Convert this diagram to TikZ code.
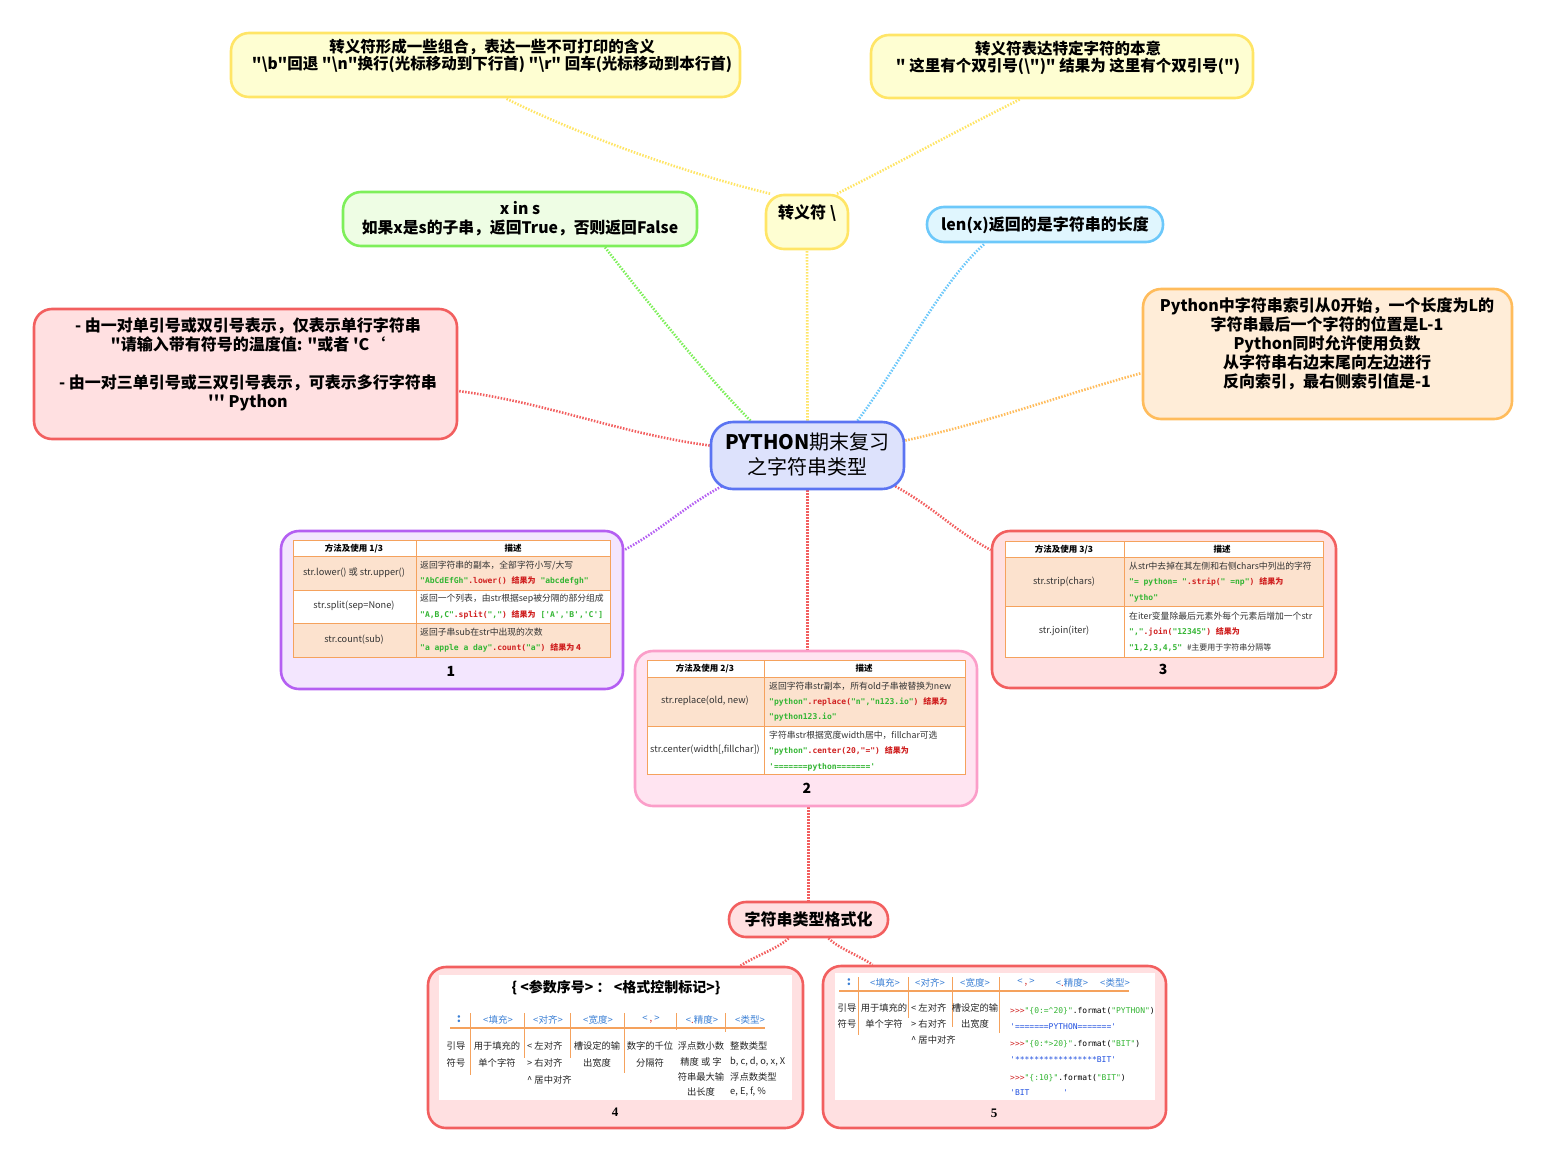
\documentclass[tikz,border=0pt]{standalone}
\usepackage{fontspec}
\usetikzlibrary{backgrounds}
\newfontfamily\cjk{Noto Sans CJK SC}
\newfontfamily\cmono{DejaVu Sans Mono}
\newfontfamily\numserif{Liberation Serif}
\definecolor{yF}{HTML}{FEFED2}\definecolor{yB}{HTML}{FFE566}
\definecolor{gF}{HTML}{EEFDE4}\definecolor{gB}{HTML}{7EEF5A}
\definecolor{bF}{HTML}{E0F6FE}\definecolor{bB}{HTML}{6CC8FA}
\definecolor{rF}{HTML}{FFE0E1}\definecolor{rB}{HTML}{F25F5F}
\definecolor{oF}{HTML}{FFEDD8}\definecolor{oB}{HTML}{FFBC5C}
\definecolor{cF}{HTML}{DDE2FC}\definecolor{cB}{HTML}{5B74F2}
\definecolor{pF}{HTML}{F3E6FE}\definecolor{pB}{HTML}{B45FF2}
\definecolor{kF}{HTML}{FFE4F1}\definecolor{kB}{HTML}{FB9EC9}
\definecolor{rowor}{HTML}{FCE2CE}\definecolor{tline}{HTML}{F5A25D}
\definecolor{cg}{HTML}{33B533}\definecolor{cr}{HTML}{D02020}
\definecolor{cbl}{HTML}{2050E0}\definecolor{hbl}{HTML}{3A7FD5}
\definecolor{dtx}{HTML}{333333}
\newcommand\GS[1]{\textcolor{cg}{#1}}
\newcommand\RS[1]{\textcolor{cr}{#1}}
\newcommand\BS[1]{\textcolor{cbl}{#1}}
\tikzset{
  box/.style={draw, line width=2.6pt, rounded corners=18pt, inner sep=0pt},
  conn/.style={line width=2.6pt, dash pattern=on 1.5pt off 1.5pt},
  bt/.style={font=\cjk\bfseries\fontsize{16}{19}\selectfont, align=center, inner sep=0pt, text=black},
  st/.style={font=\cjk\bfseries\fontsize{15.5}{17}\selectfont, align=center, inner sep=0pt, text=black},
  th/.style={font=\cjk\bfseries\fontsize{8.5}{10}\selectfont, inner sep=0pt, text=black},
  tl/.style={font=\cjk\fontsize{9.2}{11}\selectfont, inner sep=0pt, text=dtx},
  td/.style={font=\cjk\fontsize{8.8}{10}\selectfont, inner sep=0pt, text=dtx, anchor=west},
  tc/.style={font=\cmono\bfseries\fontsize{8}{9}\selectfont, inner sep=0pt, anchor=west},
  tlin/.style={draw=tline, line width=0.9pt},
  hd/.style={font=\cjk\fontsize{9.5}{10}\selectfont, inner sep=0pt, text=hbl},
  cell/.style={font=\cjk\fontsize{9.3}{10}\selectfont, inner sep=0pt, text=black!85},
  num/.style={font=\cjk\bfseries\fontsize{14}{16}\selectfont, inner sep=0pt},
  numb/.style={font=\numserif\bfseries\fontsize{13}{15}\selectfont, inner sep=0pt},
}
\begin{document}
\begin{tikzpicture}[x=1pt,y=-1pt]
\useasboundingbox (0,0) rectangle (1546,1162);

% ---------- boxes ----------
\node[box, draw=cB, fill=cF, minimum width=193pt, minimum height=67pt, rounded corners=22pt] (center) at (807.5,455.5) {};
\node[align=center, inner sep=0pt, font=\fontsize{20}{25}\selectfont] (centerT) at (807.5,454)
  {{\cjk\bfseries PYTHON}{\cjk 期末复习}\\{\cjk 之字符串类型}};

\node[box, draw=yB, fill=yF, minimum width=82pt, minimum height=54pt] (esc) at (807,222) {};
\node[bt] (escT) at (807,213) {转义符 \textbackslash};

\node[box, draw=yB, fill=yF, minimum width=509pt, minimum height=64pt] (tl) at (485.5,65) {};
\node[st] (tlT) at (492,56) {转义符形成一些组合，表达一些不可打印的含义\\
 "\textbackslash b"回退 "\textbackslash n"换行(光标移动到下行首) "\textbackslash r" 回车(光标移动到本行首)};

\node[box, draw=yB, fill=yF, minimum width=382pt, minimum height=63pt] (tr) at (1062,66.5) {};
\node[st] (trT) at (1068,58) {转义符表达特定字符的本意\\
 " 这里有个双引号(\textbackslash")" 结果为 这里有个双引号(")};

\node[box, draw=gB, fill=gF, minimum width=354pt, minimum height=54pt] (green) at (520,219) {};
\node[bt, font=\cjk\bfseries\fontsize{15.8}{19}\selectfont] (greenT) at (520,218.5) {x in s\\如果x是s的子串，返回True，否则返回False};

\node[box, draw=bB, fill=bF, minimum width=236pt, minimum height=35pt, rounded corners=17pt] (len) at (1045,224.5) {};
\node[bt] (lenT) at (1045,225) {len(x)返回的是字符串的长度};

\node[box, draw=rB, fill=rF, minimum width=423pt, minimum height=130pt] (red) at (245.5,374) {};
\node[bt] (redT) at (248,364) {- 由一对单引号或双引号表示，仅表示单行字符串\\
 "请输入带有符号的温度值: "或者 'C‘\\[19pt]
 - 由一对三单引号或三双引号表示，可表示多行字符串\\
 ''' Python};

\node[box, draw=oB, fill=oF, minimum width=369pt, minimum height=130pt] (orange) at (1327.5,354) {};
\node[bt] (orangeT) at (1327,344) {Python中字符串索引从0开始，一个长度为L的\\
 字符串最后一个字符的位置是L-1\\ Python同时允许使用负数\\ 从字符串右边末尾向左边进行\\ 反向索引，最右侧索引值是-1};

\node[box, draw=pB, fill=pF, minimum width=342pt, minimum height=158pt] (t1) at (452,610) {};
\node[box, draw=kB, fill=kF, minimum width=342pt, minimum height=155pt] (t2) at (806,728.5) {};
\node[box, draw=rB, fill=rF, minimum width=344pt, minimum height=157pt] (t3) at (1164,609.5) {};

\node[box, draw=rB, fill=rF, minimum width=159pt, minimum height=35pt, rounded corners=17pt] (fmt) at (808.5,919.5) {};
\node[bt] (fmtT) at (808.5,919) {字符串类型格式化};

\node[box, draw=rB, fill=rF, minimum width=375pt, minimum height=161pt] (t4) at (615.5,1047.5) {};
\node[box, draw=rB, fill=rF, minimum width=343pt, minimum height=162pt] (t5) at (994.5,1047) {};

% ---------- connectors ----------
\begin{scope}[on background layer]
\draw[conn, draw=yB] (center.north) -- (esc.south);
\draw[conn, draw=yB] ([xshift=-37pt]esc.north) .. controls +(-90,-22) and +(70,35) .. ([xshift=20pt]tl.south);
\draw[conn, draw=yB] ([xshift=30pt]esc.north) .. controls +(60,-30) and +(-70,35) .. ([xshift=-42pt]tr.south);
\draw[conn, draw=gB] ([xshift=-57pt]center.north) .. controls +(-45,-45) and +(35,45) .. ([xshift=85pt]green.south);
\draw[conn, draw=bB] ([xshift=50pt]center.north) .. controls +(45,-60) and +(-45,40) .. ([xshift=-60pt]len.south);
\draw[conn, draw=rB] ([yshift=10pt]center.west) .. controls +(-90,-12) and +(90,12) .. ([yshift=-17pt]red.east);
\draw[conn, draw=oB] ([yshift=15pt]center.east) .. controls +(90,-20) and +(-90,25) .. ([yshift=-19pt]orange.west);
\draw[conn, draw=pB] ([xshift=12pt,yshift=4pt]center.south west) .. controls +(-40,22) and +(40,-22) .. ([yshift=60pt]t1.east);
\draw[conn, draw=rB] ([xshift=-10pt,yshift=4pt]center.south east) .. controls +(40,22) and +(-40,-22) .. ([yshift=59.5pt]t3.west);
\draw[conn, draw=rB] (center.south) -- ([xshift=1.5pt]t2.north);
\draw[conn, draw=rB] ([xshift=2.5pt]t2.south) -- (fmt.north);
\draw[conn, draw=rB] ([xshift=-20pt]fmt.south) .. controls +(-10,10) and +(15,-10) .. ([xshift=125pt]t4.north);
\draw[conn, draw=rB] ([xshift=20pt]fmt.south) .. controls +(10,10) and +(-15,-10) .. ([xshift=-122pt]t5.north);
\end{scope}

% ---------- table 1 ----------
\fill[white] (293,540) rectangle (610,556);
\fill[rowor] (293,556) rectangle (610,590);
\fill[white] (293,590) rectangle (610,623);
\fill[rowor] (293,623) rectangle (610,657);
\draw[tlin] (293,540) rectangle (610,657);
\draw[tlin] (416,540) -- (416,657);
\draw[tlin] (293,556) -- (610,556);
\draw[tlin] (293,590) -- (610,590);
\draw[tlin] (293,623) -- (610,623);
\node[th] (t1ha) at (354,548.5) {方法及使用 1/3};
\node[th] (t1hb) at (513,548.5) {描述};
\node[tl] (t1l1) at (354,573) {str.lower() 或 str.upper()};
\node[tl] (t1l2) at (354,606) {str.split(sep=None)};
\node[tl] (t1l3) at (354,640) {str.count(sub)};
\node[td] (t1d1) at (420,566) {返回字符串的副本，全部字符小写/大写};
\node[tc] (t1c1) at (420,581) {\GS{"AbCdEfGh"}\RS{.lower()} \RS{\cjk 结果为} \GS{"abcdefgh"}};
\node[td] (t1d2) at (420,599) {返回一个列表，由str根据sep被分隔的部分组成};
\node[tc] (t1c2) at (420,615) {\GS{"A,B,C"}\RS{.split(}\GS{","}\RS{)} \RS{\cjk 结果为} \GS{['A','B','C']}};
\node[td] (t1d3) at (420,632) {返回子串sub在str中出现的次数};
\node[tc] (t1c3) at (420,648) {\GS{"a apple a day"}\RS{.count(}\GS{"a"}\RS{)} \RS{\cjk 结果为 4}};
\node[num] (t1n) at (451,671) {1};

% ---------- table 2 ----------
\fill[white] (647,660) rectangle (965,677);
\fill[rowor] (647,677) rectangle (965,726);
\fill[white] (647,726) rectangle (965,774);
\draw[tlin] (647,660) rectangle (965,774);
\draw[tlin] (764,660) -- (764,774);
\draw[tlin] (647,677) -- (965,677);
\draw[tlin] (647,726) -- (965,726);
\node[th] (t2ha) at (705,668.5) {方法及使用 2/3};
\node[th] (t2hb) at (864,668.5) {描述};
\node[tl] (t2l1) at (705,701) {str.replace(old, new)};
\node[tl] (t2l2) at (705,750) {str.center(width[,fillchar])};
\node[td] (t2d1) at (769,686) {返回字符串str副本，所有old子串被替换为new};
\node[tc] (t2c1) at (769,702) {\GS{"python"}\RS{.replace(}\GS{"n","n123.io"}\RS{)} \RS{\cjk 结果为}};
\node[tc] (t2c1b) at (769,717) {\GS{"python123.io"}};
\node[td] (t2d2) at (769,735) {字符串str根据宽度width居中，fillchar可选};
\node[tc] (t2c2) at (769,751) {\GS{"python"}\RS{.center(20,"=")} \RS{\cjk 结果为}};
\node[tc] (t2c2b) at (769,767) {\GS{'=======python======='}};
\node[num] (t2n) at (807,788) {2};

% ---------- table 3 ----------
\fill[white] (1005,541) rectangle (1323,557);
\fill[rowor] (1005,557) rectangle (1323,606);
\fill[white] (1005,606) rectangle (1323,657);
\draw[tlin] (1005,541) rectangle (1323,657);
\draw[tlin] (1124,541) -- (1124,657);
\draw[tlin] (1005,557) -- (1323,557);
\draw[tlin] (1005,606) -- (1323,606);
\node[th] (t3ha) at (1064,549.5) {方法及使用 3/3};
\node[th] (t3hb) at (1222,549.5) {描述};
\node[tl] (t3l1) at (1064,582) {str.strip(chars)};
\node[tl] (t3l2) at (1064,631) {str.join(iter)};
\node[td] (t3d1) at (1129,566) {从str中去掉在其左侧和右侧chars中列出的字符};
\node[tc] (t3c1) at (1129,582) {\GS{"= python= "}\RS{.strip(}\GS{" =np"}\RS{)} \RS{\cjk 结果为}};
\node[tc] (t3c1b) at (1129,598) {\GS{"ytho"}};
\node[td] (t3d2) at (1129,616) {在iter变量除最后元素外每个元素后增加一个str};
\node[tc] (t3c2) at (1129,632) {\GS{","}\RS{.join(}\GS{"12345"}\RS{)} \RS{\cjk 结果为}};
\node[tc] (t3c2b) at (1129,648) {\GS{"1,2,3,4,5"} {\cjk\mdseries\color{dtx} \#主要用于字符串分隔等}};
\node[num] (t3n) at (1163,669) {3};

% ---------- table 4 ----------
\fill[white] (439,975) rectangle (792,1100);
\node[font=\cjk\bfseries\fontsize{14}{15}\selectfont, inner sep=0pt] (t4ti) at (616,988) {\{ <参数序号> ： <格式控制标记>\}};
\draw[tlin, line width=1.2pt] (450,1028) -- (765,1028);
\draw[tlin] (470,1013) -- (470,1075);
\draw[tlin] (524,1013) -- (524,1058);
\draw[tlin] (570,1013) -- (570,1058);
\draw[tlin] (624,1013) -- (624,1073);
\draw[tlin] (676,1013) -- (676,1030);
\draw[tlin] (725,1013) -- (725,1032);
\node[hd, font=\cjk\bfseries\fontsize{12}{12}\selectfont] (t4h0) at (459,1019) {:};
\node[hd] (t4h1) at (498,1020) {<填充>};
\node[hd] (t4h2) at (548,1020) {<对齐>};
\node[hd] (t4h3) at (598,1020) {<宽度>};
\node[hd] (t4h4) at (651,1020) {< \RS{,} >};
\node[hd] (t4h5) at (702,1020) {<\RS{.}精度>};
\node[hd] (t4h6) at (750,1020) {<类型>};
\node[cell] (t4a1) at (456,1046) {引导};
\node[cell] (t4a2) at (456,1063) {符号};
\node[cell] (t4b1) at (497,1046) {用于填充的};
\node[cell] (t4b2) at (497,1063) {单个字符};
\node[cell, anchor=west] (t4c1) at (527,1046) {< 左对齐};
\node[cell, anchor=west] (t4c2) at (527,1063) {> 右对齐};
\node[cell, anchor=west] (t4c3) at (527,1080) {\textasciicircum{} 居中对齐};
\node[cell] (t4d1) at (597,1046) {槽设定的输};
\node[cell] (t4d2) at (597,1063) {出宽度};
\node[cell] (t4e1) at (650,1046) {数字的千位};
\node[cell] (t4e2) at (650,1063) {分隔符};
\node[cell] (t4f1) at (701,1046) {浮点数小数};
\node[cell] (t4f2) at (701,1062) {精度 或 字};
\node[cell] (t4f3) at (701,1077) {符串最大输};
\node[cell] (t4f4) at (701,1092) {出长度};
\node[cell, anchor=west] (t4g1) at (730,1046) {整数类型};
\node[cell, anchor=west] (t4g2) at (730,1062) {b, c, d, o, x, X};
\node[cell, anchor=west] (t4g3) at (730,1077) {浮点数类型};
\node[cell, anchor=west] (t4g4) at (730,1092) {e, E, f, \%};
\node[numb] (t4n) at (615,1112) {4};

% ---------- table 5 ----------
\fill[white] (835,973) rectangle (1155,1100);
\draw[tlin, line width=1.2pt] (839,991) -- (1129,991);
\draw[tlin] (858,977) -- (858,1035);
\draw[tlin] (908,977) -- (908,1018);
\draw[tlin] (952,977) -- (952,1027);
\draw[tlin] (999,977) -- (999,1033);
\node[hd, font=\cjk\bfseries\fontsize{12}{12}\selectfont] (t5h0) at (849,982) {:};
\node[hd] (t5h1) at (885,983) {<填充>};
\node[hd] (t5h2) at (930,983) {<对齐>};
\node[hd] (t5h3) at (975,983) {<宽度>};
\node[hd] (t5h4) at (1026,983) {< \RS{,} >};
\node[hd] (t5h5) at (1072,983) {<\RS{.}精度>};
\node[hd] (t5h6) at (1115,983) {<类型>};
\node[cell] (t5a1) at (847,1008) {引导};
\node[cell] (t5a2) at (847,1024) {符号};
\node[cell] (t5b1) at (884,1008) {用于填充的};
\node[cell] (t5b2) at (884,1024) {单个字符};
\node[cell, anchor=west] (t5c1) at (911,1008) {< 左对齐};
\node[cell, anchor=west] (t5c2) at (911,1024) {> 右对齐};
\node[cell, anchor=west] (t5c3) at (911,1040) {\textasciicircum{} 居中对齐};
\node[cell] (t5d1) at (975,1008) {槽设定的输};
\node[cell] (t5d2) at (975,1024) {出宽度};
\node[tc, font=\cmono\fontsize{8}{9}\selectfont] (t5k1) at (1010,1011) {\RS{>>>}\GS{"\{0:=\textasciicircum20\}"}.format(\GS{"PYTHON"})};
\node[tc, font=\cmono\fontsize{8}{9}\selectfont] (t5k2) at (1010,1027) {\BS{'=======PYTHON======='}};
\node[tc, font=\cmono\fontsize{8}{9}\selectfont] (t5k3) at (1010,1044) {\RS{>>>}\GS{"\{0:*>20\}"}.format(\GS{"BIT"})};
\node[tc, font=\cmono\fontsize{8}{9}\selectfont] (t5k4) at (1010,1060) {\BS{'*****************BIT'}};
\node[tc, font=\cmono\fontsize{8}{9}\selectfont] (t5k5) at (1010,1078) {\RS{>>>}\GS{"\{:10\}"}.format(\GS{"BIT"})};
\node[tc, font=\cmono\fontsize{8}{9}\selectfont] (t5k6) at (1010,1093) {\BS{'BIT\phantom{0000000}'}};
\node[numb] (t5n) at (994,1113) {5};
\end{tikzpicture}
\end{document}
